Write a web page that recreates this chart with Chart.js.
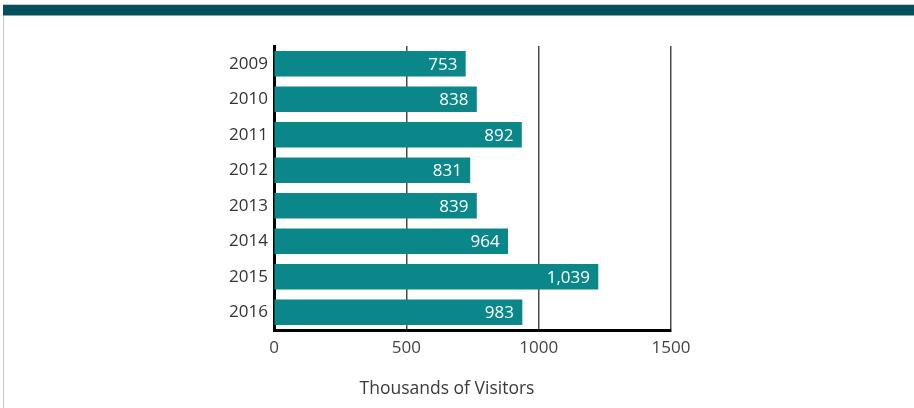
<!DOCTYPE html>
<html>
<head>
<meta charset="utf-8">
<script src="https://cdn.jsdelivr.net/npm/chart.js@4.4.1/dist/chart.umd.min.js"></script>
<style>
  body { margin: 0; background: #fff; }
  #wrap { position: relative; width: 914px; height: 408px; overflow: hidden; }
  #topline { position: absolute; left: 3px; top: 4px; width: 911px; height: 1px; background: #b9cdd0; }
  #band { position: absolute; left: 3px; top: 5px; width: 911px; height: 10px; background: #05505a; }
  #bandedge { position: absolute; left: 3px; top: 15px; width: 911px; height: 1px; background: #7fa9ad; }
  #leftborder { position: absolute; left: 3px; top: 16px; width: 1px; height: 392px; background: #c8c8c8; }
  canvas { position: absolute; left: 0; top: 0; }
</style>
</head>
<body>
<div id="wrap">
  <div id="topline"></div>
  <div id="band"></div>
  <div id="bandedge"></div>
  <div id="leftborder"></div>
  <canvas id="myChart" width="914" height="408"></canvas>
</div>
<script>
// years on the y axis
const years = ["2009", "2010", "2011", "2012", "2013", "2014", "2015", "2016"];
// bar lengths as drawn in the picture (thousands of visitors)
const barValues = [723, 765, 935, 740, 765, 883, 1224, 937];
// the numbers printed on the bars
const barLabels = ["753", "838", "892", "831", "839", "964", "1,039", "983"];
// x axis ticks
const xTicks = [0, 500, 1000, 1500];
const axisTitle = "Thousands of Visitors";

const fontName = "'Open Sans', sans-serif";

// write the number inside the end of each bar
const barText = {
  id: "barText",
  afterDatasetsDraw(chart) {
    const ctx = chart.ctx;
    const meta = chart.getDatasetMeta(0);
    ctx.save();
    ctx.fillStyle = "#ffffff";
    ctx.font = "17px " + fontName;
    ctx.textAlign = "right";
    ctx.textBaseline = "middle";
    meta.data.forEach(function (bar, i) {
      ctx.fillText(barLabels[i], bar.x - 8, bar.y + 1);
    });
    ctx.restore();
  }
};

// axis title sits a bit left of the axis center in the original
const titleText = {
  id: "titleText",
  afterDraw(chart) {
    const ctx = chart.ctx;
    ctx.save();
    ctx.fillStyle = "#3a3a3a";
    ctx.font = "17.5px " + fontName;
    ctx.textAlign = "center";
    ctx.textBaseline = "middle";
    ctx.fillText(axisTitle, 447, 389);
    ctx.restore();
  }
};

let ctx = document.getElementById("myChart").getContext("2d");

let myChart = new Chart(ctx, {
  type: "bar",
  data: {
    labels: years,
    datasets: [
      {
        data: barValues,
        backgroundColor: "#0b878a",
        borderWidth: 0,
        barThickness: 25,
      },
    ],
  },
  options: {
    indexAxis: "y",
    responsive: false,
    animation: false,
    layout: { padding: { left: 0, right: 243, top: 46, bottom: 0 } },
    plugins: {
      legend: { display: false },
      tooltip: { enabled: false },
    },
    scales: {
      x: {
        min: 0,
        max: 1500,
        afterBuildTicks: function (scale) {
          scale.ticks = xTicks.map(function (v) { return { value: v }; });
        },
        afterFit: function (scale) { scale.height = 78; },
        grid: { color: "#4a4a4a", lineWidth: 1.5, drawTicks: false },
        border: { display: true, color: "#000000", width: 3 },
        ticks: {
          color: "#444444",
          font: { family: fontName, size: 17 },
          padding: 8,
          callback: function (v) { return String(v); },
        },
      },
      y: {
        afterFit: function (scale) { scale.width = 274; },
        grid: { display: false, drawTicks: false },
        border: { display: true, color: "#000000", width: 3 },
        ticks: {
          color: "#333333",
          font: { family: fontName, size: 17 },
          padding: 6,
        },
      },
    },
  },
  plugins: [barText, titleText],
});
</script>
</body>
</html>
